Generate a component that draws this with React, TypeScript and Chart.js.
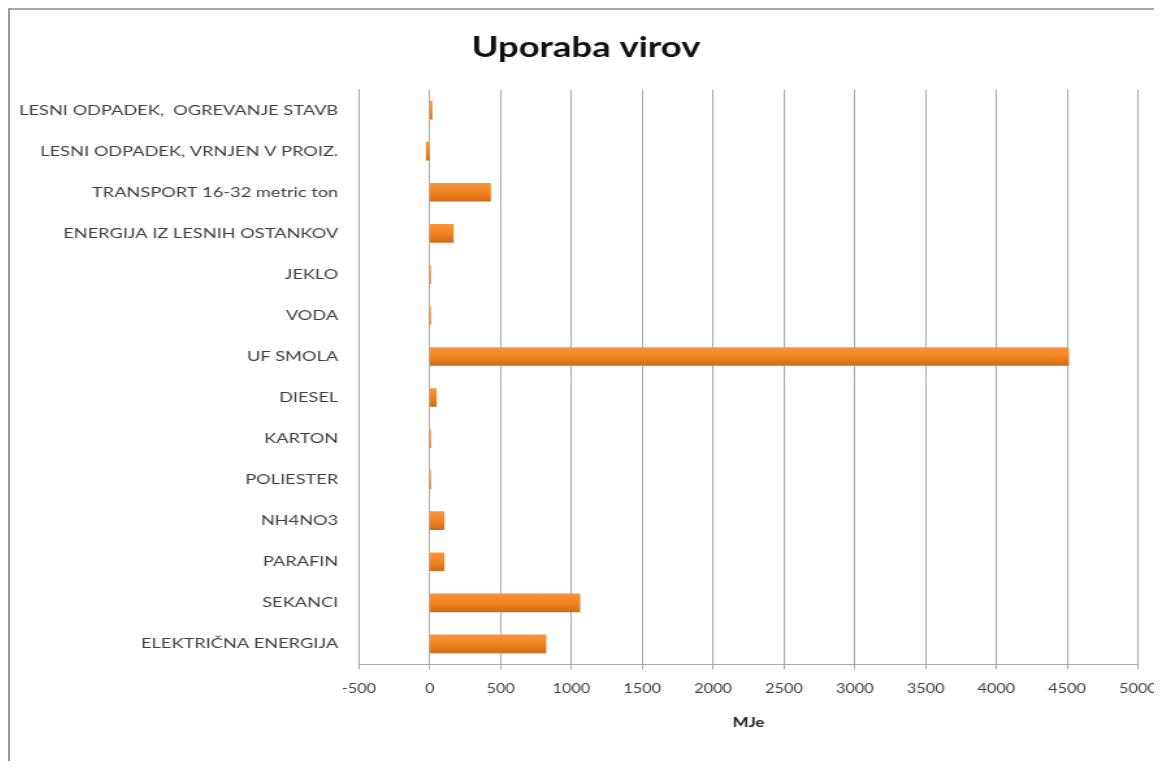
import React, { useEffect, useRef } from "react";
import { Chart, registerables } from "chart.js";

Chart.register(...registerables);

const chartTitle = "Uporaba virov";
const axisTitle = "MJe";
const categories = [
  "LESNI ODPADEK,  OGREVANJE STAVB",
  "LESNI ODPADEK, VRNJEN V PROIZ.",
  "TRANSPORT 16-32 metric ton",
  "ENERGIJA IZ LESNIH OSTANKOV",
  "JEKLO",
  "VODA",
  "UF SMOLA",
  "DIESEL",
  "KARTON",
  "POLIESTER",
  "NH4NO3",
  "PARAFIN",
  "SEKANCI",
  "ELEKTRIČNA ENERGIJA",
];
const values = [15, -25, 428, 165, 2, 1, 4510, 45, 1, 1, 100, 100, 1059, 819];
const xMin = -500;
const xMax = 5000;
const xStep = 500;

const CSS_W = 1152;
const CSS_H = 751;
const INT_W = 886;
const STRETCH = CSS_W / INT_W;
const BAR_H = 18;

export default function App() {
  const ref = useRef<HTMLCanvasElement>(null);
  useEffect(() => {
    document.documentElement.style.overflow = "hidden";
    document.body.style.overflow = "hidden";
    if (!ref.current) return;
    const font = "Lato";
    const chart = new Chart(ref.current, {
      type: "bar",
      data: {
        labels: categories,
        datasets: [
          {
            data: values,
            backgroundColor: (c: any) => {
              const ch = c.chart;
              const ys = ch.scales && ch.scales.y;
              if (!ys || c.dataIndex === undefined) return "#F2831F";
              const cy = ys.getPixelForValue(c.dataIndex);
              if (!isFinite(cy)) return "#F2831F";
              const g = ch.ctx.createLinearGradient(0, cy - BAR_H / 2, 0, cy + BAR_H / 2);
              g.addColorStop(0, "#F7953F");
              g.addColorStop(0.5, "#F2831F");
              g.addColorStop(1, "#D26C18");
              return g;
            },
            borderWidth: 0,
            barThickness: BAR_H,
          },
        ],
      },
      options: {
        indexAxis: "y",
        responsive: false,
        animation: false,
        layout: { padding: 0 },
        plugins: {
          legend: { display: false },
          tooltip: { enabled: false },
          title: {
            display: true,
            text: chartTitle,
            color: "#111111",
            font: { family: font, size: 28, weight: "bold" },
            padding: { top: 21, bottom: 25 },
          },
        },
        scales: {
          x: {
            type: "linear",
            min: xMin,
            max: xMax,
            ticks: {
              stepSize: xStep,
              color: "#404040",
              font: { family: font, size: 12.5 },
              padding: 12,
              maxRotation: 0,
              callback: (v: any) => String(v),
            },
            grid: { color: "#A9A9A9", lineWidth: 1, tickLength: 5, drawTicks: true },
            border: { display: true, color: "#A9A9A9" },
            title: {
              display: true,
              text: axisTitle,
              color: "#222222",
              font: { family: font, size: 13, weight: "bold" },
              padding: { top: 7, bottom: 30 },
            },
            afterFit: (scale: any) => {
              scale.paddingRight = INT_W - (1138 - 10) / STRETCH;
            },
          },
          y: {
            type: "category",
            ticks: {
              color: "#404040",
              font: { family: font, size: 14 },
              padding: 16,
            },
            grid: { display: false, drawTicks: false },
            border: { display: true, color: "#A9A9A9" },
            afterFit: (scale: any) => {
              scale.width = (359 - 10) / STRETCH;
            },
          },
        },
      },
    });
    return () => chart.destroy();
  }, []);

  return (
    <div
      style={{
        borderLeft: "2px solid #999999",
        borderTop: "2px solid #A8A8A8",
        width: 1154,
        height: 753,
        boxSizing: "border-box",
      }}
    >
      <canvas
        ref={ref}
        width={INT_W}
        height={CSS_H}
        style={{ width: CSS_W, height: CSS_H, display: "block" }}
      />
    </div>
  );
}
